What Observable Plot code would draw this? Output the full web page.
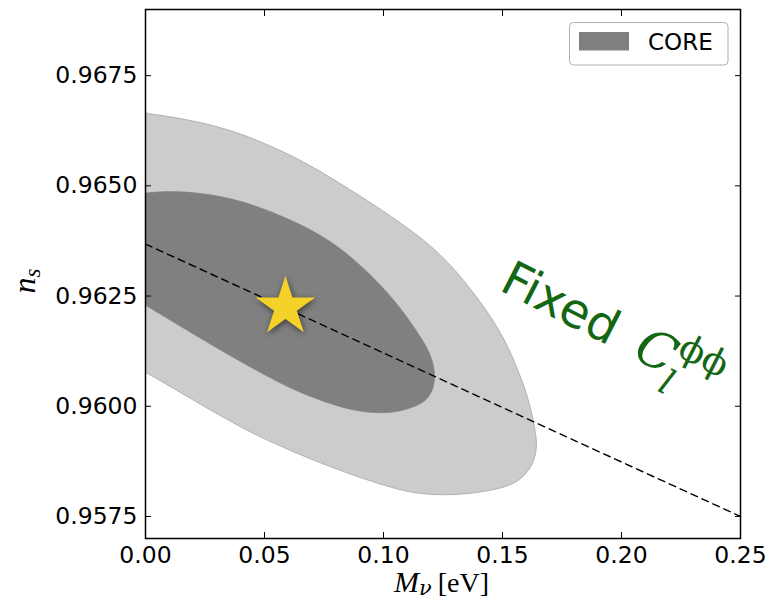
<!DOCTYPE html>
<html>
<head>
<meta charset="utf-8">
<script src="https://cdn.jsdelivr.net/npm/d3@7"></script>
<script src="https://cdn.jsdelivr.net/npm/@observablehq/plot@0.6"></script>
<style>
  html, body { margin: 0; padding: 0; background: #fff; }
  #chart { position: relative; width: 772px; height: 605px; }
</style>
</head>
<body>
<div id="chart"></div>
<script>
// Axis ticks
const xTicks = [0.00, 0.05, 0.10, 0.15, 0.20, 0.25];
const yTicks = [0.9575, 0.9600, 0.9625, 0.9650, 0.9675];

// 2-sigma (outer) CORE contour in the (M_nu, n_s) plane
const outerMnu = [0, 0.01261, 0.02592, 0.03992, 0.05378, 0.06794, 0.08193, 0.09580, 0.10996, 0.12395,
  0.13655, 0.14916, 0.15546, 0.16092, 0.16387, 0.16458, 0.16303, 0.15882, 0.15210, 0.13782,
  0.12521, 0.11345, 0.10294, 0.09244, 0.08193, 0.06513, 0.04832, 0.03992, 0.02311, 0.00630, 0];
const outerNs = [0.96665, 0.96655, 0.96641, 0.96619, 0.96588, 0.96551, 0.96505, 0.96458, 0.96406, 0.96347,
  0.96269, 0.96172, 0.96097, 0.96020, 0.95945, 0.95907, 0.95870, 0.95838, 0.95816, 0.95802,
  0.95798, 0.95802, 0.95816, 0.95834, 0.95854, 0.95889, 0.95930, 0.95953, 0.96004, 0.96058, 0.96077];

// 1-sigma (inner) CORE contour
const innerMnu = [0, 0.01176, 0.02592, 0.03992, 0.05378, 0.06794, 0.08193, 0.09580, 0.10714, 0.11681,
  0.12101, 0.12185, 0.12017, 0.11681, 0.10714, 0.09580, 0.08193, 0.06092, 0.03992, 0.01891, 0];
const innerNs = [0.96484, 0.96489, 0.96482, 0.96467, 0.96440, 0.96406, 0.96361, 0.96293, 0.96225, 0.96149,
  0.96104, 0.96058, 0.96029, 0.96006, 0.95987, 0.95983, 0.95996, 0.96038, 0.96101, 0.96167, 0.96229];

// Degeneracy direction at fixed lensing potential
const fixedMnu = [0, 0.25];
const fixedNs = [0.96368, 0.9575];

// Fiducial model
const fiducialMnu = [0.0588];
const fiducialNs = [0.96225];

// Annotation anchor
const noteMnu = [0.1481];
const noteNs = [0.96265];
const noteText = ["Fixed"];

const zip = (xs, ys) => xs.map((x, i) => ({x, y: ys[i]}));
const outer = zip(outerMnu, outerNs);
const inner = zip(innerMnu, innerNs);
const fixedLine = zip(fixedMnu, fixedNs);
const fiducial = zip(fiducialMnu, fiducialNs);
const note = noteMnu.map((x, i) => ({x, y: noteNs[i], text: noteText[i]}));

const green = "#136613";

const svg = Plot.plot({
  width: 772,
  height: 605,
  marginLeft: 145,
  marginRight: 32,
  marginTop: 9,
  marginBottom: 67,
  x: {domain: [0, 0.25]},
  y: {domain: [0.9570, 0.9690]},
  style: {fontFamily: "'DejaVu Sans', sans-serif", fontSize: "23.5px", color: "black", background: "white", overflow: "visible"},
  marks: [
    Plot.line(outer, {x: "x", y: "y", curve: "basis", fill: "#cccccc", stroke: "#b2b2b2", strokeWidth: 1}),
    Plot.line(inner, {x: "x", y: "y", curve: "basis", fill: "#808080", stroke: "#808080", strokeWidth: 0.5}),
    Plot.line(fixedLine, {x: "x", y: "y", stroke: "black", strokeWidth: 1.4, strokeDasharray: "7,5"}),
    Plot.dot(fiducial, {x: "x", y: "y", symbol: "star", r: 18.7, fill: "#f5d22a"}),
    Plot.text(note, {x: "x", y: "y", text: "text", rotate: 27, textAnchor: "start", fill: green, fontSize: 48}),
    Plot.frame({stroke: "black", strokeWidth: 1.5}),
    Plot.axisX({ticks: xTicks, tickFormat: d3.format(".2f"), tickSize: 0, tickPadding: 8, label: null}),
    Plot.axisY({ticks: yTicks, tickFormat: d3.format(".4f"), tickSize: 0, tickPadding: 8, label: null}),
    Plot.axisX({ticks: xTicks, anchor: "bottom", tickSize: -6, fill: "none", label: null}),
    Plot.axisX({ticks: xTicks, anchor: "top", tickSize: -6, fill: "none", label: null}),
    Plot.axisY({ticks: yTicks, anchor: "left", tickSize: -6, fill: "none", label: null}),
    Plot.axisY({ticks: yTicks, anchor: "right", tickSize: -6, fill: "none", label: null})
  ]
});

document.getElementById("chart").appendChild(svg);
const s = d3.select(svg);

// Soft shadow under the fiducial star
s.select('g[aria-label="dot"]').style("filter", "drop-shadow(1px 2px 3px rgba(0,0,0,0.55))");

// "Fixed C_l^{phi phi}" annotation: add the math part as tspans
const mathFont = "'DejaVu Serif', serif";
const t = s.select('g[aria-label="text"] text');
t.attr("y", null).attr("dy", null).text(null);
t.append("tspan").text("Fixed ");
t.append("tspan").attr("dx", 10).attr("font-family", mathFont).attr("font-style", "italic")
  .attr("font-size", 51).text("C");
const sub = t.append("tspan").attr("font-family", mathFont).attr("font-style", "italic")
  .attr("font-size", 35).attr("dy", 18).attr("dx", -2).text("l");
const subW = sub.node().getComputedTextLength();
t.append("tspan").attr("font-family", mathFont).attr("font-size", 37)
  .attr("dx", -subW + 2).attr("dy", -40).text("ϕϕ");

// Axis titles
const serif = "'Liberation Serif', 'DejaVu Serif', serif";
const xl = s.append("text").attr("x", 441.5).attr("y", 592).attr("text-anchor", "middle")
  .attr("font-family", serif).attr("font-size", 28).attr("fill", "black");
xl.append("tspan").attr("font-style", "italic").attr("font-size", 30).text("M");
xl.append("tspan").attr("font-family", mathFont).attr("font-style", "italic").attr("font-size", 21).attr("dy", 3).text("ν");
xl.append("tspan").attr("dy", -3).attr("dx", 6).text("[eV]");

const yl = s.append("text").attr("transform", "translate(35,281) rotate(-90)").attr("text-anchor", "middle")
  .attr("font-family", serif).attr("font-size", 32).attr("fill", "black");
yl.append("tspan").attr("font-style", "italic").text("n");
yl.append("tspan").attr("font-style", "italic").attr("font-size", 23).attr("dy", 5).text("s");

// Legend
const lg = s.append("g").attr("text-anchor", "start");
lg.append("rect").attr("x", 569.5).attr("y", 22.5).attr("width", 158.5).attr("height", 42.5).attr("rx", 4)
  .attr("fill", "white").attr("stroke", "#b0b0b0").attr("stroke-width", 1);
lg.append("rect").attr("x", 579).attr("y", 32).attr("width", 50).attr("height", 18.5).attr("fill", "#808080");
lg.append("text").attr("x", 648).attr("y", 50).attr("font-size", 23).attr("fill", "black").text("CORE");
</script>
</body>
</html>
